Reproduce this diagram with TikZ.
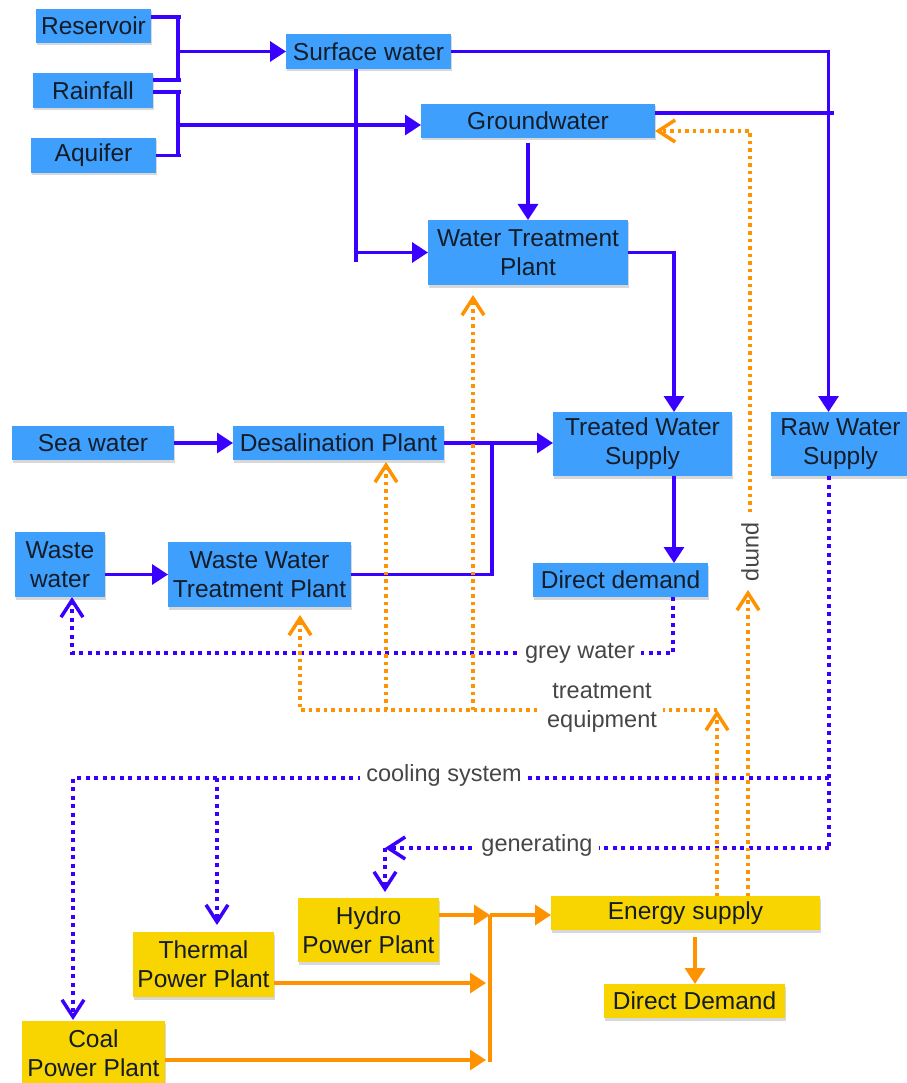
\documentclass[tikz,border=0pt]{standalone}
\usepackage{fontspec}
\setmainfont{Liberation Sans}
\usetikzlibrary{arrows.meta,calc,shadows}
\definecolor{boxblue}{RGB}{62,160,252}
\definecolor{boxyel}{RGB}{248,213,0}
\definecolor{lblue}{RGB}{58,0,255}
\definecolor{lorange}{RGB}{255,146,0}
\definecolor{txt}{RGB}{20,28,40}
\definecolor{lbl}{RGB}{70,70,70}
\begin{document}
\begin{tikzpicture}[x=1pt,y=-1pt,
 box/.style={draw=none, inner sep=0pt, outer sep=0pt, align=center, text=txt,
   font=\fontsize{24.5}{29}\selectfont,
   drop shadow={shadow xshift=1pt,shadow yshift=-2.5pt,opacity=0.3}},
 bbox/.style={box, fill=boxblue},
 ybox/.style={box, fill=boxyel},
 bl/.style={draw=lblue, line width=3.2pt},
 orl/.style={draw=lorange, line width=3.2pt},
 bdot/.style={draw=lblue, line width=4pt, dash pattern=on 4pt off 4.5pt},
 odot/.style={draw=lorange, line width=3.5pt, dash pattern=on 3.5pt off 4pt},
 tri/.style={-{Triangle[length=16pt,width=20pt]}},
 barb/.style={-{Straight Barb[length=17pt,width=22pt,line width=3.5pt]}},
 lab/.style={fill=white, text=lbl, inner xsep=6pt, inner ysep=1pt,
   font=\fontsize{23.5}{29}\selectfont, align=center}
]
\useasboundingbox (0,0) rectangle (906,1083);
\fill[white] (0,0) rectangle (906,1083);

% ---- nodes
\node[bbox, minimum width=115pt, minimum height=34pt] (res) at (93.5,26) {Reservoir};
\node[bbox, minimum width=120pt, minimum height=35pt] (rain) at (93,90.5) {Rainfall};
\node[bbox, minimum width=125pt, minimum height=35pt] (aq) at (93.5,155.5) {Aquifer};
\node[bbox, minimum width=165pt, minimum height=35pt] (surf) at (368.5,51.5) {Surface water};
\node[bbox, minimum width=234pt, minimum height=34pt] (gw) at (538,121) {Groundwater};
\node[bbox, minimum width=200pt, minimum height=65pt] (wtp) at (528,252.5) {Water Treatment\\Plant};
\node[bbox, minimum width=162pt, minimum height=34pt] (sea) at (93,443) {Sea water};
\node[bbox, minimum width=211pt, minimum height=34pt] (desal) at (338.5,443) {Desalination Plant};
\node[bbox, minimum width=179pt, minimum height=64pt] (tws) at (642.5,444) {Treated Water\\Supply};
\node[bbox, minimum width=139pt, minimum height=64pt] (raw) at (840.5,444) {Raw Water\\Supply};
\node[bbox, minimum width=90pt, minimum height=65pt] (ww) at (60,564.5) {Waste\\water};
\node[bbox, minimum width=183pt, minimum height=65pt] (wwtp) at (259.5,574.5) {Waste Water\\Treatment Plant};
\node[bbox, minimum width=175pt, minimum height=34pt] (dd) at (620.5,580) {Direct demand};
\node[ybox, minimum width=141pt, minimum height=64pt] (hydro) at (368.5,930) {Hydro\\Power Plant};
\node[ybox, minimum width=141pt, minimum height=65pt] (thermal) at (203.5,964.5) {Thermal\\Power Plant};
\node[ybox, minimum width=143pt, minimum height=64pt] (coal) at (93.5,1053) {Coal\\Power Plant};
\node[ybox, minimum width=269pt, minimum height=34pt] (energy) at (685.5,913) {Energy supply};
\node[ybox, minimum width=181pt, minimum height=34pt] (ddem) at (694.5,1001) {Direct Demand};

% ---- solid blue connectors
\draw[bl] ([yshift=9pt]res.east) -- (181,17);
\draw[bl] (178,17) -- (178,80);
\draw[bl] ([yshift=10.5pt]rain.east) -- (181,80);
\draw[bl,tri] (178,51.5) -- (surf.west);
\draw[bl] ([yshift=-1.5pt]rain.east) -- (181,92);
\draw[bl] (178,92) -- (178,155.5);
\draw[bl] (aq.east) -- (181,155.5);
\draw[bl,tri] (178,125) -- (gw.west |- 178,125);

\draw[bl] ([xshift=-12.5pt]surf.south) -- (356,262);
\draw[bl,tri] (356,252.5) -- (wtp.west);
\draw[bl,tri] (surf.east) -| ([xshift=-12pt]raw.north);
\draw[bl] ([yshift=8pt]gw.east) -- (834,113);
\draw[bl,tri] ($(wtp.north |- gw.south)+(0,5)$) -- (wtp.north);
\draw[bl,tri] (wtp.east) -| (674,0 |- tws.north);
\draw[bl,tri] (674,0 |- tws.south) -- (674,0 |- dd.north);

\draw[bl,tri] (sea.east) -- (desal.west);
\draw[bl,tri] (desal.east) -- (desal.east -| tws.west);
\draw[bl] (492,443) |- (wwtp.east);
\draw[bl,tri] (ww.east |- wwtp.west) -- (wwtp.west);

% ---- dotted blue
\draw[bdot,barb] (673,0 |- dd.south) |- (578,653) -| (72,0 |- ww.south);
\draw[bdot] (829,0 |- raw.south) -- (829,848);
\draw[bdot,barb,shorten >=1pt] (829,778) -| (73,0 |- coal.north);
\draw[bdot,barb,shorten >=7pt] (217,778) -- (217,0 |- thermal.north);
\draw[bdot,barb] (829,848) -- (385,848);
\draw[bdot,barb,shorten >=6pt] (385,848) -- (385,0 |- hydro.north);

% ---- dotted orange
\coordinate (te) at (717,710);
\draw[odot,barb] (717,0 |- energy.north) -- (te);
\draw[odot,barb,shorten >=8pt] (te) -| (300,0 |- wwtp.south);
\draw[odot,barb,shorten >=2pt] (386,710) -- (386,0 |- desal.south);
\draw[odot,barb,shorten >=10pt] (473,710) -- (473,0 |- wtp.south);
\draw[odot,barb] (748,0 |- energy.north) -- (748,590);
\draw[odot,barb] (750,512) |- ([yshift=-10pt]gw.east);

% ---- solid orange
\draw[orl,tri] ([yshift=15pt]hydro.east) -- (490,915);
\draw[orl,tri] (490,915) -- (energy.west |- 0,915);
\draw[orl] (490,915) -- (490,1062);
\draw[orl,tri] (thermal.east |- 0,983) -- (486,983);
\draw[orl,tri] (coal.east |- 0,1060) -- (486,1060);
\draw[orl,tri,shorten <=7pt] (695,0 |- energy.south) -- (695,0 |- ddem.north);

% ---- labels
\node[lab] (lgrey) at (580,653) {grey water};
\node[lab] (ltreat) at (602,708) {treatment\\equipment};
\node[lab] (lcool) at (444,775) {cooling system};
\node[lab] (lgen) at (537,845) {generating};
\node[lab, rotate=-90] (lpump) at (750,552) {pump};
\end{tikzpicture}
\end{document}
